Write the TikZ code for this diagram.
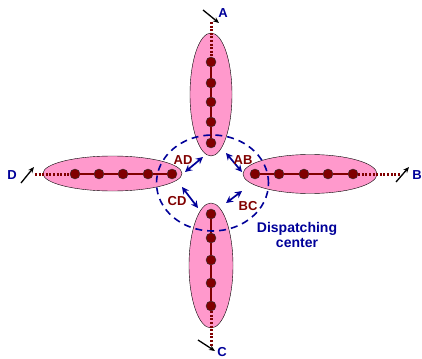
\documentclass[tikz,border=0pt]{standalone}
\usepackage{fontspec}
\setmainfont{Liberation Sans}
\usetikzlibrary{shapes.geometric, arrows.meta}
\definecolor{petalpink}{HTML}{FF99CC}
\definecolor{busred}{HTML}{800000}
\definecolor{hubblue}{HTML}{000099}

\begin{document}
\begin{tikzpicture}[
  x=1pt, y=-1pt,
  every node/.style={font=\bfseries},
  zone/.style={ellipse, draw=black, fill=petalpink, inner sep=0pt},
  busdot/.style={circle, draw=black!80, fill=busred, minimum size=10pt, inner sep=0pt},
  bus/.style={draw=busred, line width=1.5pt},
  feeder/.style={draw=busred, line width=3pt, dash pattern=on 2pt off 1.6pt},
  inflow/.style={-{Stealth[length=6pt, width=5pt]}, line width=1.3pt},
  pair/.style={{Stealth[length=7pt, width=7pt]}-{Stealth[length=7pt, width=7pt]}, draw=hubblue, line width=1.7pt},
  tie/.style={text=busred, font=\bfseries\fontsize{13}{14}\selectfont, inner sep=0pt},
  term/.style={text=hubblue, font=\bfseries\fontsize{13}{14}\selectfont, inner sep=0pt}
]
\useasboundingbox (0,0) rectangle (422,358);

% the four zones
\node[zone, minimum width=42pt, minimum height=123pt] (zoneA) at (211,94.5) {};
\node[zone, minimum width=44pt, minimum height=125pt] (zoneC) at (211,265.5) {};
\node[zone, minimum width=139pt, minimum height=35pt] (zoneD) at (112.5,173.5) {};
\node[zone, minimum width=134pt, minimum height=39pt] (zoneB) at (310,174) {};

% buses with their nodes
\foreach \i/\y in {1/62,2/83,3/102,4/122,5/143}
  \node[busdot] (a\i) at (211,\y) {};
\foreach \i/\y in {1/214,2/238,3/260,4/283,5/306}
  \node[busdot] (c\i) at (211,\y) {};
\foreach \i/\x in {1/75,2/99,3/123,4/148,5/172}
  \node[busdot] (d\i) at (\x,174) {};
\foreach \i/\x in {1/255,2/279,3/304,4/328,5/353}
  \node[busdot] (b\i) at (\x,174) {};
\foreach \p in {a,b,c,d}{
  \draw[bus] (\p1) -- (\p2);
  \draw[bus] (\p2) -- (\p3);
  \draw[bus] (\p3) -- (\p4);
  \draw[bus] (\p4) -- (\p5);
}

% feeders and terminals
\coordinate (feedA) at (211,22);
\coordinate (feedB) at (400,174);
\coordinate (feedC) at (211,347);
\coordinate (feedD) at (35,174);
\draw[feeder] (feedA) -- (a1);
\draw[feeder] (b5) -- (feedB);
\draw[feeder] (c5) -- (feedC);
\draw[feeder] (feedD) -- (d1);

\draw[inflow] (203,10) -- (219,23);
\draw[inflow] (396,182) -- (409,167);
\draw[inflow] (198,340) -- (215,351);
\draw[inflow] (21,183) -- (34,167);
\node[term] (termA) at (223,13) {A};
\node[term] (termB) at (417,175) {B};
\node[term] (termC) at (222,352) {C};
\node[term] (termD) at (12,175) {D};

% dispatching center
\node[ellipse, draw=hubblue, line width=1.6pt, dash pattern=on 7pt off 5pt,
  minimum width=112pt, minimum height=96pt] (hub) at (212.5,183) {};
\draw[pair] (185,172) -- (203,157);
\draw[pair] (226,153) -- (242,172);
\draw[pair] (182,187) -- (198,208);
\draw[pair] (226,203) -- (242,191);
\node[tie] (tieAD) at (183,160) {AD};
\node[tie] (tieAB) at (243,160) {AB};
\node[tie] (tieCD) at (177,201) {CD};
\node[tie] (tieBC) at (248,206) {BC};
\node[text=hubblue, align=center, font=\bfseries\fontsize{14}{15}\selectfont, inner sep=0pt]
  (hublbl) at (297,234.5) {Dispatching\\center};

\end{tikzpicture}
\end{document}
